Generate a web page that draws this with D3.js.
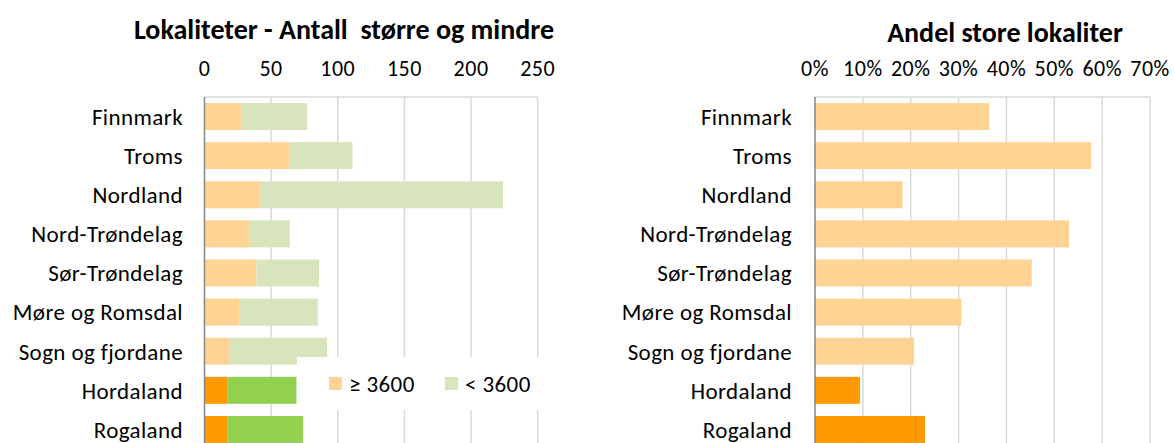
<!DOCTYPE html>
<html>
<head>
  <meta charset="utf-8">
  <style>
    body { margin: 0; background: #fff; }
    text { font-family: Calibri, Carlito, Lato, sans-serif; fill: #000; }
    .title { font-weight: bold; font-size: 28px; white-space: pre; }
    .lbl { font-size: 23px; letter-spacing: 0.4px; }
    .tick { font-size: 22px; letter-spacing: 0.5px; }
  </style>
</head>
<body>
<svg id="chart" width="1174" height="443"></svg>
<script src="https://d3js.org/d3.v7.min.js"></script>
<script>
var regions = ["Finnmark", "Troms", "Nordland", "Nord-Trøndelag", "Sør-Trøndelag",
               "Møre og Romsdal", "Sogn og fjordane", "Hordaland", "Rogaland"];
var large = [28, 64, 41, 34, 39, 26, 19, 17, 17];      // >= 3600
var small = [49, 47, 183, 30, 47, 59, 73, 52, 57];     // < 3600
var share = [0.364, 0.577, 0.183, 0.531, 0.453, 0.306, 0.207, 0.094, 0.23];
var highlighted = ["Hordaland", "Rogaland"];
var countTicks = [0, 50, 100, 150, 200, 250];
var shareTicks = [0, 0.1, 0.2, 0.3, 0.4, 0.5, 0.6, 0.7];
var legendKeys = ["≥ 3600", "< 3600"];

var colLarge = "#FFD394", colSmall = "#D8E4BC",
    colLargeDark = "#FF9900", colSmallDark = "#92D050",
    gridCol = "#d9d9d9", axisCol = "#868686";

var svg = d3.select("#chart");

var top0 = 97, bottom0 = 449;

var y = d3.scaleBand()
    .domain(regions)
    .range([top0, bottom0])
    .paddingInner(0.31)
    .paddingOuter(0.155);

function isDark(name) { return highlighted.indexOf(name) >= 0; }

function drawFrame(g, x, ticks, fmt, labelX) {
  var r = x.range();
  // gridlines
  g.append("g").selectAll("line")
      .data(ticks.slice(1))
      .enter().append("line")
        .attr("x1", function(d) { return x(d); })
        .attr("x2", function(d) { return x(d); })
        .attr("y1", top0)
        .attr("y2", bottom0)
        .style("stroke", gridCol)
        .style("stroke-width", 1.5);
  g.append("line")
      .attr("x1", r[0]).attr("x2", r[1])
      .attr("y1", top0).attr("y2", top0)
      .style("stroke", gridCol)
      .style("stroke-width", 1.5);

  // tick labels on top
  g.append("g").selectAll("text")
      .data(ticks)
      .enter().append("text")
        .attr("class", "tick")
        .attr("x", function(d) { return x(d); })
        .attr("y", 76)
        .style("text-anchor", "middle")
        .text(fmt);

  // category labels
  g.append("g").selectAll("text")
      .data(regions)
      .enter().append("text")
        .attr("class", "lbl")
        .attr("x", labelX)
        .attr("y", function(d) { return y(d) + y.bandwidth() / 2; })
        .attr("dy", ".36em")
        .style("text-anchor", "end")
        .text(function(d) { return d; });
}

function drawAxis(g, x) {
  g.append("line")
      .attr("x1", x.range()[0]).attr("x2", x.range()[0])
      .attr("y1", top0).attr("y2", bottom0)
      .style("stroke", axisCol)
      .style("stroke-width", 1.5);
}

// left chart: counts
var x0 = d3.scaleLinear().domain([0, 250]).range([204.5, 537.7]);
var left = svg.append("g");
drawFrame(left, x0, countTicks, function(d) { return d; }, 183);

var rows = regions.map(function(r, i) {
  return {name: r, large: large[i], small: small[i], share: share[i]};
});

left.append("g").selectAll("rect.lg")
    .data(rows)
    .enter().append("rect")
      .attr("x", x0(0))
      .attr("y", function(d) { return y(d.name); })
      .attr("width", function(d) { return x0(d.large) - x0(0); })
      .attr("height", y.bandwidth())
      .style("fill", function(d) { return isDark(d.name) ? colLargeDark : colLarge; });

left.append("g").selectAll("rect.sm")
    .data(rows)
    .enter().append("rect")
      .attr("x", function(d) { return x0(d.large); })
      .attr("y", function(d) { return y(d.name); })
      .attr("width", function(d) { return x0(d.large + d.small) - x0(d.large); })
      .attr("height", y.bandwidth())
      .style("fill", function(d) { return isDark(d.name) ? colSmallDark : colSmall; });

drawAxis(left, x0);

left.append("text")
    .attr("class", "title")
    .attr("x", 344)
    .attr("y", 39)
    .style("text-anchor", "middle")
    .text("Lokaliteter - Antall  større og mindre");

// legend (white box sits over the plot)
var legend = left.append("g").attr("transform", "translate(297,357)");
legend.append("rect")
    .attr("width", 251)
    .attr("height", 53)
    .style("fill", "#fff");

var item = legend.selectAll("g.item")
    .data(legendKeys)
    .enter().append("g")
      .attr("transform", function(d, i) { return "translate(" + (32 + i * 116) + ",20)"; });
item.append("rect")
    .attr("width", 13)
    .attr("height", 13)
    .style("fill", function(d, i) { return i === 0 ? colLarge : colSmall; });
item.append("text")
    .attr("class", "lbl")
    .attr("x", 20)
    .attr("y", 7)
    .attr("dy", ".36em")
    .text(function(d) { return d; });

// right chart: share of large sites
var x1 = d3.scaleLinear().domain([0, 0.7]).range([815, 1150]);
var right = svg.append("g");
drawFrame(right, x1, shareTicks, d3.format(".0%"), 792);

right.append("g").selectAll("rect")
    .data(rows)
    .enter().append("rect")
      .attr("x", x1(0))
      .attr("y", function(d) { return y(d.name); })
      .attr("width", function(d) { return x1(d.share) - x1(0); })
      .attr("height", y.bandwidth())
      .style("fill", function(d) { return isDark(d.name) ? colLargeDark : colLarge; });

drawAxis(right, x1);

right.append("text")
    .attr("class", "title")
    .attr("x", 1005)
    .attr("y", 42)
    .style("text-anchor", "middle")
    .text("Andel store lokaliter");
</script>
</body>
</html>
